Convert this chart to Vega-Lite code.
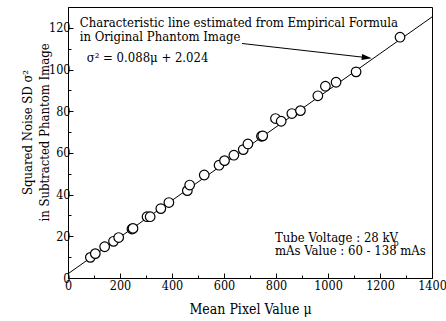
{
  "$schema": "https://vega.github.io/schema/vega-lite/v6.json",
  "width": 364,
  "height": 271,
  "autosize": "none",
  "padding": {"left": 68, "top": 7, "right": 14, "bottom": 43},
  "background": "white",
  "config": {
    "view": {"stroke": "black", "strokeWidth": 1},
    "font": "DejaVu Serif Condensed",
    "axis": {
      "domainColor": "black", "tickColor": "black", "labelColor": "black", "titleColor": "black",
      "labelFont": "DejaVu Serif Condensed", "titleFont": "DejaVu Serif Condensed",
      "labelFontSize": 12.5, "titleFontSize": 13, "titleFontWeight": "normal",
      "grid": false, "domainWidth": 1, "tickWidth": 1, "labelOverlap": false, "labelFlush": false, "labelBound": false
    }
  },
  "datasets": {
    "points": [
      {"x": 86, "y": 9.9}, {"x": 105, "y": 11.7}, {"x": 141, "y": 15.0}, {"x": 175, "y": 17.6},
      {"x": 195, "y": 19.4}, {"x": 246, "y": 23.5}, {"x": 250, "y": 23.8}, {"x": 304, "y": 29.4},
      {"x": 316, "y": 29.4}, {"x": 357, "y": 33.3}, {"x": 388, "y": 36.2}, {"x": 459, "y": 41.9},
      {"x": 468, "y": 44.6}, {"x": 524, "y": 49.4}, {"x": 581, "y": 54.1}, {"x": 602, "y": 56.3},
      {"x": 638, "y": 58.9}, {"x": 674, "y": 61.6}, {"x": 692, "y": 64.3}, {"x": 744, "y": 68.0},
      {"x": 749, "y": 68.2}, {"x": 798, "y": 76.5}, {"x": 820, "y": 75.2}, {"x": 861, "y": 78.9},
      {"x": 894, "y": 80.3}, {"x": 961, "y": 87.4}, {"x": 990, "y": 92.0}, {"x": 1031, "y": 93.9},
      {"x": 1108, "y": 98.9}, {"x": 1277, "y": 115.5}
    ],
    "fit": [{"x": 0, "y": 2.024, "x2": 1400, "y2": 125.224}],
    "arrow": [{"x": 669, "y": 112.5, "x2": 1150, "y2": 105.7}],
    "head": [{"x": 1149, "y": 105.7}],
    "notes": [
      {"x": 45, "y": 120.2, "label": "Characteristic line estimated from Empirical Formula"},
      {"x": 45, "y": 113.9, "label": "in Original Phantom Image"},
      {"x": 72, "y": 103.4, "label": "σ² = 0.088μ + 2.024"},
      {"x": 796, "y": 17.5, "label": "Tube Voltage : 28 kV"},
      {"x": 796, "y": 11.0, "label": "mAs Value : 60 - 138 mAs"}
    ],
    "subs": [{"x": 1252, "y": 15.2, "label": "p"}]
  },
  "encoding": {
    "x": {
      "field": "x", "type": "quantitative",
      "scale": {"domain": [0, 1400], "nice": false},
      "axis": {
        "title": "Mean Pixel Value μ",
        "titleFontSize": 14,
        "values": [0, 100, 200, 300, 400, 500, 600, 700, 800, 900, 1000, 1100, 1200, 1300, 1400],
        "labelExpr": "datum.value % 200 === 0 ? datum.value : ''",
        "tickSize": {"condition": {"test": "datum.value % 200 === 0", "value": -5}, "value": -3},
        "labelPadding": 6,
        "titlePadding": 9
      }
    },
    "y": {
      "field": "y", "type": "quantitative",
      "scale": {"domain": [0, 130], "nice": false},
      "axis": {
        "title": ["Squared Noise SD σ²", "in Subtracted Phantom Image"],
        "values": [0, 10, 20, 30, 40, 50, 60, 70, 80, 90, 100, 110, 120],
        "labelExpr": "datum.value % 20 === 0 ? datum.value : ''",
        "tickSize": {"condition": {"test": "datum.value % 20 === 0", "value": -5}, "value": -3},
        "labelPadding": 3,
        "titleBaseline": "middle",
        "titleAlign": "center",
        "titleAngle": -90,
        "titleLineHeight": 17,
        "titleX": -41,
        "titleY": 125
      }
    }
  },
  "layer": [
    {
      "data": {"name": "fit"},
      "mark": {"type": "rule", "color": "black", "strokeWidth": 1},
      "encoding": {"x2": {"field": "x2"}, "y2": {"field": "y2"}}
    },
    {
      "data": {"name": "arrow"},
      "mark": {"type": "rule", "color": "black", "strokeWidth": 1},
      "encoding": {"x2": {"field": "x2"}, "y2": {"field": "y2"}}
    },
    {
      "data": {"name": "head"},
      "mark": {"type": "point", "shape": "M-1,-0.6L1,0L-1,0.6Z", "size": 100, "angle": 6.6, "filled": true, "color": "black", "opacity": 1}
    },
    {
      "data": {"name": "points"},
      "mark": {"type": "point", "shape": "circle", "size": 92, "filled": false, "fill": "white", "fillOpacity": 1, "stroke": "black", "strokeWidth": 1.2, "opacity": 1}
    },
    {
      "data": {"name": "notes"},
      "mark": {"type": "text", "align": "left", "baseline": "alphabetic", "font": "DejaVu Serif Condensed", "fontSize": 13, "color": "black"},
      "encoding": {"text": {"field": "label"}}
    },
    {
      "data": {"name": "subs"},
      "mark": {"type": "text", "align": "left", "baseline": "alphabetic", "font": "DejaVu Serif Condensed", "fontSize": 9, "color": "black"},
      "encoding": {"text": {"field": "label"}}
    }
  ]
}
